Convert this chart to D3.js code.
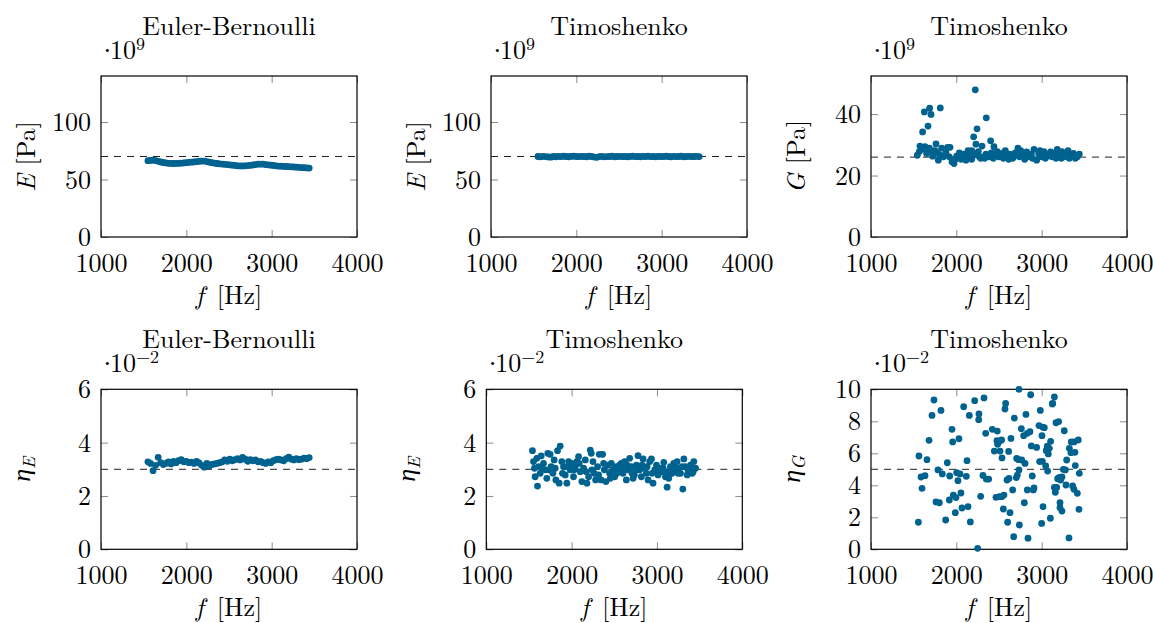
<!DOCTYPE html>
<html><head><meta charset="utf-8">
<script src="https://cdn.jsdelivr.net/npm/d3@7"></script>
<style>
body{margin:0;background:#fff}
svg{display:block}
</style>
</head><body>
<svg id="chart" width="1153" height="623"></svg>
<script>
// ---------------- data ----------------
const xTicks = [1000, 2000, 3000, 4000];
const titles = ["Euler-Bernoulli", "Timoshenko", "Timoshenko", "Euler-Bernoulli", "Timoshenko", "Timoshenko"];

// shared frequencies for the dense series (Hz)
const fDense = [1550,1580,1610,1640,1670,1700,1730,1760,1790,1820,1850,1880,1910,1940,1970,2000,2030,2060,2090,2120,2150,2180,2210,2240,2270,2300,2330,2360,2390,2420,2450,2480,2510,2540,2570,2600,2630,2660,2690,2720,2750,2780,2810,2840,2870,2900,2930,2960,2990,3020,3050,3080,3110,3140,3170,3200,3230,3260,3290,3320,3350,3380,3410,3440];

// Euler-Bernoulli E (x1e9 Pa)
const eEB = [66.4,66.6,66.8,66.5,65.8,65.2,64.8,64.4,64.1,64.0,63.9,64.0,64.1,64.2,64.4,64.6,64.9,65.1,65.3,65.5,65.8,66.0,66.0,65.6,65.1,64.6,64.2,63.9,63.6,63.4,63.2,63.0,62.8,62.5,62.2,61.9,61.8,61.8,61.9,62.1,62.3,62.6,63.0,63.3,63.4,63.3,63.0,62.8,62.5,62.2,61.9,61.7,61.6,61.4,61.3,61.2,61.0,60.9,60.7,60.6,60.4,60.3,60.1,59.9];

// Timoshenko E (x1e9 Pa)
const eT = [70.0,69.8,70.1,69.9,69.6,69.4,70.0,69.8,70.1,69.9,70.2,70.0,69.8,70.1,70.3,70.0,69.9,70.1,70.0,69.8,70.2,70.0,69.5,69.3,69.9,70.1,69.7,69.9,70.0,70.2,69.8,70.0,70.1,69.9,70.0,69.8,70.1,70.2,69.9,70.0,69.8,70.1,70.0,70.2,69.9,70.0,69.8,70.1,70.0,69.9,70.2,70.0,69.8,70.1,69.9,70.0,70.2,69.8,70.0,70.1,69.9,70.0,70.1,69.9];

// Euler-Bernoulli eta_E (x1e-2)
const etaEB = [3.28,3.22,2.95,3.15,3.45,3.25,3.18,3.22,3.28,3.20,3.30,3.25,3.32,3.36,3.28,3.30,3.25,3.27,3.22,3.30,3.24,3.15,3.08,3.22,3.12,3.18,3.20,3.22,3.25,3.28,3.35,3.30,3.38,3.32,3.36,3.40,3.35,3.45,3.38,3.30,3.36,3.32,3.35,3.28,3.30,3.25,3.22,3.28,3.25,3.32,3.36,3.38,3.35,3.32,3.40,3.46,3.38,3.35,3.40,3.36,3.38,3.42,3.40,3.44];

// Timoshenko G (x1e9 Pa)
const fG = [2222,1625,1687,1703,1812,1668,1605,2351,2242,2203,2230,2301,2402,2441,
1543,1574,1601,1633,1652,1684,1711,1762,1750,1789,1808,1848,1879,1898,1926,1949,1973,2004,2035,2055,2082,2113,2137,2160,2180,2180,2207,2258,2285,2316,2347,2379,2410,2433,2465,2496,2527,2551,2574,2598,2629,2660,2691,2722,2738,2769,2801,2824,2855,2879,2910,2941,2965,2996,3027,3058,3090,3121,3152,3183,3215,3238,3262,3293,3324,3347,3371,3394,3418,3441,
1566,1723,1777,1828,1918,1988,2066,2129,2191,2270,2332,2394,2480,2543,2613,2676,2754,2816,2894,2980,3043,3105,3168,3230,3309,3386];
const gT = [47.9,40.7,41.9,39.9,42.0,36.1,34.2,38.8,35.2,32.6,30.2,29.6,31.3,29.4,
26.6,29.6,28.6,29.4,27.2,28.9,28.1,30.3,28.1,25.0,26.7,26.1,27.4,29.2,29.2,24.5,23.9,26.3,27.4,25.3,27.0,25.0,28.1,26.1,28.1,25.3,26.7,27.8,25.6,26.1,27.0,26.1,27.4,25.6,27.0,26.1,27.2,25.6,28.1,26.1,27.0,25.6,27.4,28.9,26.1,27.2,25.3,27.7,26.1,27.0,28.5,25.0,27.0,26.1,27.8,26.3,27.0,26.1,27.2,28.5,26.7,27.8,26.1,27.2,25.6,26.3,27.2,25.6,26.1,27.0,
27.8,26.3,27.4,28.9,26.1,25.3,26.7,26.3,27.2,26.1,25.6,26.7,27.8,27.0,25.3,26.3,28.1,26.1,25.6,28.1,25.6,27.7,25.6,25.6,28.1,26.7];

// Timoshenko eta_E (x1e-2)
const fEtaE = [1541,1553,1564,1572,1600,1615,1643,1631,1670,1690,1709,1721,1748,1760,1780,1795,1815,1835,1866,1854,1885,1905,1925,1944,1964,1983,2003,2022,2042,2062,2081,2101,2120,2140,2160,2179,2199,2218,2230,2250,2265,2281,2304,2324,2344,2363,2383,2402,2426,2445,2465,2484,2504,2524,2543,2563,2582,2602,2621,2641,2661,2680,2700,2720,2735,2759,2778,2798,2817,2837,2857,2876,2896,2915,2935,2954,2974,2994,3013,3033,3060,3080,3099,3119,3138,3158,3178,3197,3217,3236,3256,3276,3303,3315,3334,3354,3374,3393,3413,3432,3452,
1592,1650,1729,1807,1893,1952,2030,2089,2171,2238,2316,2375,2453,2532,2590,2649,2708,2767,2825,2884,2943,3001,3072,3131,3189,3248,3295,3362,3424];
const etaET = [3.70,3.29,3.04,2.72,2.37,3.10,3.50,2.85,3.22,2.98,2.66,3.60,3.56,3.10,2.85,3.35,2.60,3.70,3.87,2.48,3.29,3.10,2.79,2.48,3.29,2.98,3.22,2.72,3.10,3.29,3.47,2.91,2.54,3.04,3.35,2.48,2.72,3.72,3.60,3.29,2.85,2.60,3.10,3.56,2.60,3.56,2.98,2.54,3.16,2.85,3.22,2.98,2.72,3.10,2.91,3.16,3.22,2.85,3.29,2.60,2.98,3.41,3.10,2.66,2.79,3.16,3.51,2.98,2.72,3.39,3.04,2.85,2.60,3.29,3.39,2.48,2.98,3.16,2.79,3.04,2.91,3.26,2.72,2.33,2.66,3.10,2.85,3.22,2.98,3.29,3.04,2.85,2.26,3.39,3.10,2.79,2.98,3.16,2.85,3.29,3.04,
3.41,3.04,2.98,3.04,2.85,3.10,2.98,3.22,2.91,2.98,2.79,3.22,2.66,2.85,3.04,3.16,2.85,2.98,3.16,3.10,2.85,2.98,3.04,2.91,3.04,2.85,3.10,2.98,2.91];

// Timoshenko eta_G (x1e-2)
const fEtaG = [1562,1555,1586,1633,1598,1656,1680,1715,1738,1820,1785,1836,1762,1801,1894,1922,1918,1875,1949,1957,2031,1965,1996,2054,1988,2004,2043,2019,2117,2125,2066,2137,2164,2086,2152,2215,2324,2265,2262,2250,2285,2344,2312,2351,2379,2422,2480,2465,2504,2531,2558,2445,2484,2504,2531,2476,2512,2535,2578,2570,2613,2640,2680,2594,2617,2660,2551,2629,2601,2672,2734,2871,2707,2730,2766,2762,2789,2816,2832,2863,2879,2805,2715,2734,2703,2890,2832,2910,2902,2797,2738,2840,2941,2969,2984,3012,3004,3031,2976,3008,3047,3070,3016,3000,3102,3129,3149,3125,3168,3199,3105,3066,3062,3078,3054,3090,3265,3293,3254,3277,3207,3238,3222,3187,3176,3149,3160,3215,3215,3238,3285,3320,3347,3379,3429,3324,3343,3390,3394,3441,3363,3379,3418,3437];
const etaGT = [5.83,1.69,4.52,4.60,3.81,5.60,6.81,8.37,9.33,8.68,4.96,4.71,2.96,2.91,5.41,4.58,3.08,1.83,7.50,6.71,6.91,3.39,3.23,3.52,2.29,4.79,4.71,4.29,4.56,5.54,2.58,2.66,1.71,8.91,8.37,9.29,9.46,8.46,8.10,0.06,3.31,7.25,4.62,4.39,4.39,7.50,7.39,3.25,3.29,3.29,3.39,6.14,6.56,6.75,6.83,6.79,6.14,5.71,9.12,8.77,6.12,6.93,8.20,4.33,4.43,3.71,2.52,2.29,1.69,0.79,10.0,9.66,5.68,5.60,5.58,7.54,7.10,8.43,7.25,7.35,6.46,5.37,4.64,4.96,4.48,4.58,3.71,3.83,3.71,2.91,1.52,0.69,6.37,7.73,8.68,7.64,7.10,7.60,5.48,5.50,5.21,4.89,2.66,1.62,1.94,9.12,9.52,9.08,7.91,7.98,6.75,6.44,6.25,5.96,6.16,6.31,7.41,5.58,5.00,4.96,4.50,4.52,4.33,4.41,3.87,3.87,3.56,2.91,2.60,2.39,4.02,0.71,6.71,6.71,6.83,6.31,6.04,6.06,5.23,4.75,3.96,3.75,3.50,2.50];

// reference values (dashed lines)
const refE = 70, refG = 26, refEtaE = 3, refEtaG = 5;
const yTicksE = [0, 50, 100], yTicksG = [0, 20, 40], yTicksEta = [0, 2, 4, 6], yTicksEtaG = [0, 2, 4, 6, 8, 10];

// ---------------- layout ----------------
const COLOR = "#00628f";
const PW = 256;
const panels = [
  {L:101,   T:76,    B:237,   f:fDense, v:eEB,   ymax:140,  yt:yTicksE,    ref:refE,    exp:"9",  yl:["E"," [Pa]"],  title:titles[0]},
  {L:491,   T:76,    B:237,   f:fDense, v:eT,    ymax:140,  yt:yTicksE,    ref:refE,    exp:"9",  yl:["E"," [Pa]"],  title:titles[1]},
  {L:871,   T:76,    B:237,   f:fG,     v:gT,    ymax:52.4, yt:yTicksG,    ref:refG,    exp:"9",  yl:["G"," [Pa]"],  title:titles[2]},
  {L:101,   T:389.3, B:549.3, f:fDense, v:etaEB, ymax:6,    yt:yTicksEta,  ref:refEtaE, exp:"−2", eta:"E",          title:titles[3]},
  {L:486.3, T:389.3, B:549.3, f:fEtaE,  v:etaET, ymax:6,    yt:yTicksEta,  ref:refEtaE, exp:"−2", eta:"E",          title:titles[4]},
  {L:871,   T:389.3, B:549.3, f:fEtaG,  v:etaGT, ymax:10,   yt:yTicksEtaG, ref:refEtaG, exp:"−2", eta:"G",          title:titles[5]}
];

const svg = d3.select("#chart");
const FS = 26;
const TICKLEN = 7;
const FONT = "'Latin Modern Roman'";

function txt(sel) { return sel.style("font-family", FONT).style("font-size", FS + "px").attr("fill", "#000"); }

panels.forEach(p => {
  const x = d3.scaleLinear().domain([1000, 4000]).range([p.L, p.L + PW]);
  const y = d3.scaleLinear().domain([0, p.ymax]).range([p.B, p.T]);
  const g = svg.append("g");

  // ticks (inside, all four sides)
  const axB = g.append("g").attr("transform", `translate(0,${p.B})`)
    .call(d3.axisBottom(x).tickValues(xTicks).tickSizeInner(-TICKLEN).tickSizeOuter(0).tickFormat(d3.format("d")));
  const axT = g.append("g").attr("transform", `translate(0,${p.T})`)
    .call(d3.axisTop(x).tickValues(xTicks).tickSizeInner(-TICKLEN).tickSizeOuter(0).tickFormat(""));
  const axL = g.append("g").attr("transform", `translate(${p.L},0)`)
    .call(d3.axisLeft(y).tickValues(p.yt).tickSizeInner(-TICKLEN).tickSizeOuter(0).tickFormat(d3.format("d")));
  const axR = g.append("g").attr("transform", `translate(${p.L + PW},0)`)
    .call(d3.axisRight(y).tickValues(p.yt).tickSizeInner(-TICKLEN).tickSizeOuter(0).tickFormat(""));
  [axB, axT, axL, axR].forEach(a => {
    a.select(".domain").remove();
    a.selectAll(".tick line").attr("stroke", "#8c8c8c").attr("stroke-width", 1);
    a.attr("font-family", null).attr("font-size", null);
  });
  txt(axB.selectAll(".tick text").attr("y", 35).attr("dy", null));
  txt(axL.selectAll(".tick text").attr("x", -10).attr("dy", "0.33em"));

  // frame
  g.append("rect").attr("x", p.L).attr("y", p.T).attr("width", PW).attr("height", p.B - p.T)
    .attr("fill", "none").attr("stroke", "#000").attr("stroke-width", 1.2);

  // dashed reference
  g.append("line").attr("x1", x(1000)).attr("x2", x(4000)).attr("y1", y(p.ref)).attr("y2", y(p.ref))
    .attr("stroke", "#222").attr("stroke-width", 1).attr("stroke-dasharray", "7,6");

  // points
  g.append("g").selectAll("circle").data(p.f.map((f, i) => [f, p.v[i]])).join("circle")
    .attr("cx", d => x(d[0])).attr("cy", d => y(d[1])).attr("r", 3.4).attr("fill", COLOR);

  // title
  txt(g.append("text").attr("x", p.L + PW / 2).attr("y", p.T - 41).attr("text-anchor", "middle")).text(p.title);

  // exponent  ·10^n
  const ex = txt(g.append("text").attr("x", p.L + 2).attr("y", p.T - 17));
  ex.append("tspan").attr("x", p.L + 2).style("font-family", "'Liberation Serif'").text("·");
  ex.append("tspan").attr("x", p.L + 9).text("10");
  ex.append("tspan").attr("dy", -9).style("font-size", "18px").text(p.exp);

  // x label
  const xl = txt(g.append("text").attr("x", p.L + PW / 2).attr("y", p.B + 67).attr("text-anchor", "middle"));
  xl.append("tspan").style("font-style", "italic").text("f");
  xl.append("tspan").text("\u2002[Hz]");

  // y label
  const cy = (p.T + p.B) / 2;
  if (p.yl) {
    const yl = txt(g.append("text").attr("transform", `translate(${p.L - 66},${cy}) rotate(-90)`)
      .attr("text-anchor", "middle"));
    yl.append("tspan").style("font-style", "italic").text(p.yl[0]);
    yl.append("tspan").text(p.yl[1]);
  } else {
    const yl = txt(g.append("text").attr("transform", `translate(${p.L - 71},${cy}) rotate(-90)`)
      .attr("text-anchor", "middle"));
    yl.append("tspan").style("font-style", "italic").text("η");
    yl.append("tspan").attr("dy", 5).style("font-style", "italic").style("font-size", "18px").text(p.eta);
  }
});
</script>
</body></html>
